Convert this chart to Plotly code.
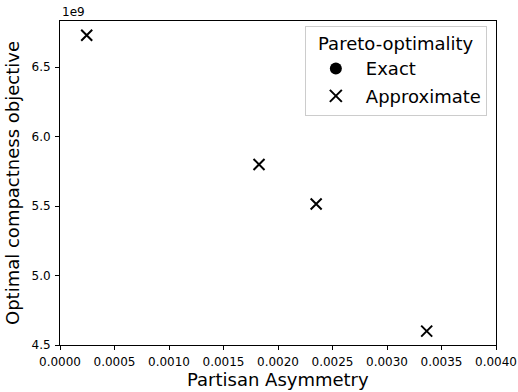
import plotly.graph_objects as go

# Data
approx_x = [0.000245, 0.001826, 0.00235, 0.003364]
approx_y = [6.73e9, 5.80e9, 5.515e9, 4.60e9]
exact_x = []
exact_y = []

x_ticks = [0.0, 0.0005, 0.001, 0.0015, 0.002, 0.0025, 0.003, 0.0035, 0.004]
x_tick_labels = ["0.0000", "0.0005", "0.0010", "0.0015", "0.0020", "0.0025", "0.0030", "0.0035", "0.0040"]
y_ticks = [4.5e9, 5.0e9, 5.5e9, 6.0e9, 6.5e9]
y_tick_labels = ["4.5", "5.0", "5.5", "6.0", "6.5"]

FONT = "DejaVu Sans"

fig = go.Figure()
fig.add_trace(go.Scatter(
    x=exact_x if exact_x else [None], y=exact_y if exact_y else [None],
    mode="markers", name="Exact", legendgroup="a",
    marker=dict(symbol="circle", size=12, color="black"),
))
fig.add_trace(go.Scatter(
    x=approx_x, y=approx_y, mode="markers", name="Approximate", legendgroup="b",
    marker=dict(symbol="x-thin", size=11, color="black",
                line=dict(color="black", width=2)),
))

axis_common = dict(
    showline=True, linecolor="black", linewidth=1, mirror=True,
    ticks="outside", ticklen=4, tickwidth=1, tickcolor="black",
    showgrid=False, zeroline=False, automargin=False,
    tickfont=dict(family=FONT, size=12, color="black"),
)

fig.update_layout(
    width=518, height=392,
    margin=dict(l=60, r=22, t=21, b=47),
    paper_bgcolor="white", plot_bgcolor="white",
    font=dict(family=FONT, color="black"),
    xaxis=dict(range=[0, 0.004], tickvals=x_ticks, ticktext=x_tick_labels,
               ticklabelstandoff=2,
               **axis_common),
    yaxis=dict(range=[4.5e9, 6.833e9], tickvals=y_ticks, ticktext=y_tick_labels,
               ticklabelstandoff=2,
               title=dict(text="Optimal compactness objective", font=dict(family=FONT, size=18), standoff=7),
               **axis_common),
    legend=dict(
        title=dict(text="Pareto-optimality", font=dict(family=FONT, size=18), side="top center"),
        font=dict(family=FONT, size=18),
        x=0.979, y=0.985, xanchor="right", yanchor="top",
        bordercolor="#cccccc", borderwidth=1, bgcolor="rgba(255,255,255,0.8)",
        itemsizing="constant", itemwidth=50, tracegroupgap=1,
    ),
    annotations=[
        dict(text="1e9", xref="paper", yref="paper", x=0, y=1.0,
             xanchor="left", yanchor="bottom", showarrow=False,
             font=dict(family=FONT, size=12, color="black"), yshift=0),
        dict(text="Partisan Asymmetry", xref="paper", yref="paper", x=0.5, y=-0.108,
             xanchor="center", yanchor="middle", showarrow=False,
             font=dict(family=FONT, size=18, color="black")),
    ],
)

fig.write_html("out.html")
